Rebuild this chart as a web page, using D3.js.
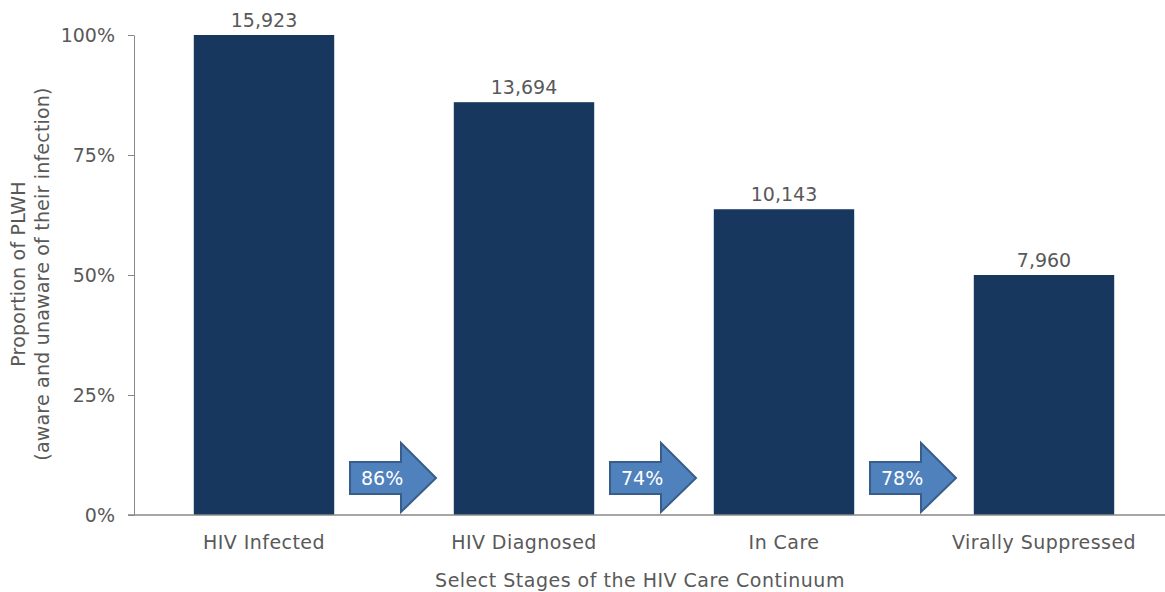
<!DOCTYPE html>
<html>
<head>
<meta charset="utf-8">
<script src="https://cdn.jsdelivr.net/npm/d3@7"></script>
<style>
  body { margin: 0; background: #fff; }
  text { font-family: "DejaVu Sans", Verdana, sans-serif; fill: #595959; }
</style>
</head>
<body>
<div id="chart"></div>
<script>
// stages of the care continuum
const stages = ['HIV Infected', 'HIV Diagnosed', 'In Care', 'Virally Suppressed']
// number of people at each stage
const counts = [15923, 13694, 10143, 7960]
// proportion of PLWH (percent)
const proportions = [100, 86, 63.7, 50]
// step-to-step percentages shown in the arrows
const stepPct = ['86%', '74%', '78%']
const yTicks = [0, 25, 50, 75, 100]

const W = 1165, H = 592
const margin = { top: 35, left: 134, bottom: 77 }
const plotH = H - margin.top - margin.bottom

let svg = d3.select('#chart').append('svg')
    .attr('width', W)
    .attr('height', H)

let x = d3.scaleBand()
    .domain(stages)
    .range([134, 1174])
    .paddingInner(0.46)
    .paddingOuter(0.23)

let y = d3.scaleLinear()
    .domain([0, 100])
    .range([margin.top + plotH, margin.top])

// bars
svg.append('g')
    .selectAll('rect')
    .data(stages)
    .join('rect')
    .attr('x', d => x(d))
    .attr('y', (d, i) => y(proportions[i]))
    .attr('width', x.bandwidth())
    .attr('height', (d, i) => y(0) - y(proportions[i]))
    .attr('fill', '#17375e')

// value labels
svg.append('g')
    .selectAll('text')
    .data(stages)
    .join('text')
    .attr('x', d => x(d) + x.bandwidth() / 2)
    .attr('y', (d, i) => y(proportions[i]) - 8)
    .attr('text-anchor', 'middle')
    .style('font-size', '19px')
    .text((d, i) => d3.format(',')(counts[i]))

// y axis
let yAxis = svg.append('g')
    .attr('transform', 'translate(' + margin.left + ',0)')
    .call(d3.axisLeft(y).tickValues(yTicks).tickFormat(d => d + '%').tickSize(6).tickSizeOuter(0))
yAxis.select('.domain').attr('stroke', '#888')
yAxis.selectAll('.tick line').attr('stroke', '#888')
yAxis.selectAll('.tick text')
    .attr('x', -19)
    .style('font-size', '19px')
    .style('font-family', '"DejaVu Sans", Verdana, sans-serif')
    .attr('fill', '#595959')

// x axis
let xAxis = svg.append('g')
    .attr('transform', 'translate(0,' + y(0) + ')')
    .call(d3.axisBottom(x).tickSize(0).tickSizeOuter(0))
xAxis.select('.domain').remove()
xAxis.selectAll('.tick text')
    .attr('y', 21)
    .style('font-size', '19px')
    .style('letter-spacing', '0.45px')
    .style('font-family', '"DejaVu Sans", Verdana, sans-serif')
    .attr('fill', '#595959')
svg.append('line')
    .attr('x1', 128).attr('x2', W)
    .attr('y1', y(0)).attr('y2', y(0))
    .attr('stroke', '#888')
    .attr('stroke-width', 1.5)

// arrows between stages, centred in the gap
const arrowPath = 'M0,-16 L51,-16 L51,-35 L86,0 L51,34 L51,16 L0,16 Z'
let arrows = svg.append('g')
    .selectAll('g')
    .data(stepPct)
    .join('g')
    .attr('transform', (d, i) => {
        let gapMid = (x(stages[i]) + x.bandwidth() + x(stages[i + 1])) / 2
        return 'translate(' + (gapMid - 44) + ',' + (y(0) - 37) + ')'
    })
arrows.append('path')
    .attr('d', arrowPath)
    .attr('fill', '#4f81bd')
    .attr('stroke', '#385d8a')
    .attr('stroke-width', 2)
arrows.append('text')
    .attr('x', 11)
    .attr('y', 7)
    .style('font-size', '19px')
    .style('fill', '#fff')
    .text(d => d)

// axis titles
svg.append('text')
    .attr('x', 640)
    .attr('y', 587)
    .attr('text-anchor', 'middle')
    .style('font-size', '19px')
    .style('letter-spacing', '0.5px')
    .text('Select Stages of the HIV Care Continuum')

let yTitle = svg.append('text')
    .attr('transform', 'translate(25,274) rotate(-90)')
    .attr('text-anchor', 'middle')
    .style('font-size', '19px')
    .style('letter-spacing', '0.2px')
yTitle.append('tspan').attr('x', 0).attr('y', 0).text('Proportion of PLWH')
yTitle.append('tspan').attr('x', 0).attr('y', 24).text('(aware and unaware of their infection)')
</script>
</body>
</html>
